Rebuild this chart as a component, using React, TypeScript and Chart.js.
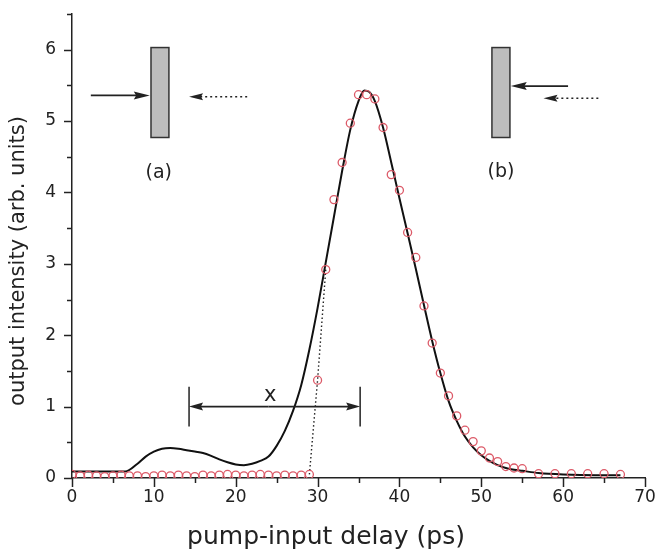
import React, { useEffect, useRef } from "react";
import { Chart, registerables } from "chart.js";

Chart.register(...registerables);

// Fitted (model) curve
const fitX = [0, 3, 6.5, 8, 9, 10, 11, 12, 13, 14, 15, 16, 17, 18, 19, 20, 21, 22, 23, 24, 25, 26, 27, 28, 29, 30, 31, 32, 33, 34, 35, 35.7, 36.3, 37, 38, 39, 40, 41, 42, 43, 44, 45, 46, 47, 48, 49, 50, 51, 52, 53, 54, 55, 57, 60, 64, 67];
const fitY = [0.09, 0.09, 0.09, 0.2, 0.3, 0.37, 0.41, 0.42, 0.41, 0.39, 0.37, 0.35, 0.31, 0.26, 0.22, 0.19, 0.18, 0.2, 0.24, 0.3, 0.45, 0.66, 0.94, 1.3, 1.8, 2.38, 3.02, 3.66, 4.3, 4.88, 5.28, 5.43, 5.41, 5.28, 4.91, 4.42, 3.92, 3.43, 2.93, 2.42, 1.92, 1.47, 1.08, 0.8, 0.58, 0.43, 0.32, 0.24, 0.18, 0.14, 0.115, 0.1, 0.07, 0.05, 0.04, 0.04];

// Measured points (red circles)
const measX = [0, 1, 2, 3, 4, 5, 6, 7, 8, 9, 10, 11, 12, 13, 14, 15, 16, 17, 18, 19, 20, 21, 22, 23, 24, 25, 26, 27, 28, 29, 30, 31, 32, 33, 34, 35, 36, 37, 38, 39, 40, 41, 42, 43, 44, 45, 46, 47, 48, 49, 50, 51, 52, 53, 54, 55, 57, 59, 61, 63, 65, 67];
const measY = [0.05, 0.03, 0.04, 0.03, 0.02, 0.03, 0.04, 0.03, 0.03, 0.02, 0.03, 0.04, 0.03, 0.04, 0.03, 0.02, 0.04, 0.03, 0.04, 0.05, 0.04, 0.03, 0.04, 0.05, 0.04, 0.03, 0.04, 0.03, 0.04, 0.05, 1.37, 2.92, 3.9, 4.42, 4.97, 5.37, 5.37, 5.31, 4.91, 4.25, 4.03, 3.44, 3.09, 2.41, 1.89, 1.47, 1.15, 0.87, 0.67, 0.51, 0.38, 0.28, 0.23, 0.16, 0.14, 0.13, 0.06, 0.06, 0.06, 0.06, 0.06, 0.05];

// Dotted connection of the measured rise
const dotX = [29, 30, 31];
const dotY = [0.05, 1.37, 2.92];

// Axis ticks
const xMajorTicks = [0, 10, 20, 30, 40, 50, 60, 70];
const yMajorTicks = [0, 1, 2, 3, 4, 5, 6];

const xTitle = "pump-input delay (ps)";
const yTitle = "output intensity (arb. units)";

const FONT = "'DejaVu Sans', 'Open Sans', sans-serif";
const INK = "#222";

function arrow(ctx: CanvasRenderingContext2D, x1: number, y1: number, x2: number, y2: number, dashed: boolean, headLen = 14, headW = 4) {
  const dir = Math.sign(x2 - x1);
  ctx.save();
  ctx.strokeStyle = INK;
  ctx.fillStyle = INK;
  ctx.lineWidth = 1.6;
  if (dashed) ctx.setLineDash([2, 3]);
  ctx.beginPath();
  ctx.moveTo(x1, y1);
  ctx.lineTo(x2 - dir * headLen * 0.8, y2);
  ctx.stroke();
  ctx.setLineDash([]);
  ctx.beginPath();
  ctx.moveTo(x2, y2);
  ctx.lineTo(x2 - dir * headLen, y2 - headW);
  ctx.lineTo(x2 - dir * headLen * 0.85, y2);
  ctx.lineTo(x2 - dir * headLen, y2 + headW);
  ctx.closePath();
  ctx.fill();
  ctx.restore();
}

const decorPlugin = {
  id: "decor",
  afterDraw(chart: any) {
    const ctx: CanvasRenderingContext2D = chart.ctx;
    const xs = chart.scales.x;
    const ys = chart.scales.y;
    const X = (v: number) => xs.getPixelForValue(v);
    const Y = (v: number) => ys.getPixelForValue(v);
    const area = chart.chartArea;
    ctx.save();
    // ticks
    ctx.strokeStyle = INK;
    ctx.lineWidth = 1.5;
    for (let v = 0; v <= 70; v += 5) {
      const len = v % 10 === 0 ? 9 : 5;
      const px = Math.round(X(v)) + 0.5;
      ctx.beginPath();
      ctx.moveTo(px, area.bottom);
      ctx.lineTo(px, area.bottom + len);
      ctx.stroke();
    }
    for (let i = 0; i <= 13; i++) {
      const v = i * 0.5;
      const len = i % 2 === 0 ? 8 : 5;
      const py = Math.round(Y(v)) + 0.5;
      ctx.beginPath();
      ctx.moveTo(area.left, py);
      ctx.lineTo(area.left - len, py);
      ctx.stroke();
    }

    // axis titles
    ctx.save();
    ctx.fillStyle = INK;
    ctx.textAlign = "center";
    ctx.textBaseline = "middle";
    ctx.font = `25px ${FONT}`;
    ctx.fillText(xTitle, 326, 537);
    ctx.font = `21px ${FONT}`;
    ctx.translate(19, 261);
    ctx.rotate(-Math.PI / 2);
    ctx.fillText(yTitle, 0, 0);
    ctx.restore();

    // Insets: slabs
    const slab = (x0: number, x1: number) => {
      const l = X(x0), r = X(x1), t = Y(6.03), b = Y(4.77);
      ctx.fillStyle = "#bdbdbd";
      ctx.fillRect(l, t, r - l, b - t);
      ctx.strokeStyle = "#333";
      ctx.lineWidth = 1.5;
      ctx.strokeRect(l, t, r - l, b - t);
    };
    slab(9.65, 11.84);
    slab(51.3, 53.5);

    // (a) arrows
    arrow(ctx, X(2.3), Y(5.36), X(9.5), Y(5.36), false, 16, 4);
    arrow(ctx, X(21.4), Y(5.34), X(14.3), Y(5.34), true, 14, 3.5);
    // (b) arrows
    arrow(ctx, X(60.6), Y(5.49), X(53.6), Y(5.49), false, 16, 4);
    arrow(ctx, X(64.3), Y(5.32), X(57.6), Y(5.32), true, 14, 3.5);

    ctx.fillStyle = INK;
    ctx.font = `19px ${FONT}`;
    ctx.textAlign = "center";
    ctx.textBaseline = "middle";
    ctx.fillText("(a)", X(10.6), Y(4.27));
    ctx.fillText("(b)", X(52.4), Y(4.28));

    // x bracket
    ctx.strokeStyle = INK;
    ctx.lineWidth = 1.5;
    for (const bx of [14.3, 35.2]) {
      ctx.beginPath();
      ctx.moveTo(X(bx), Y(1.28));
      ctx.lineTo(X(bx), Y(0.72));
      ctx.stroke();
    }
    arrow(ctx, X(24), Y(1), X(14.3), Y(1), false, 14, 4);
    arrow(ctx, X(24), Y(1), X(35.2), Y(1), false, 14, 4);
    ctx.font = `21px ${FONT}`;
    ctx.fillText("x", X(24.2), Y(1.15));
    ctx.restore();
  },
};

export default function App() {
  const ref = useRef<HTMLCanvasElement | null>(null);
  useEffect(() => {
    if (!ref.current) return;
    Chart.defaults.font.family = FONT;
    Chart.defaults.color = INK;
    const chart = new Chart(ref.current, {
      type: "line",
      data: {
        datasets: [
          {
            label: "measured",
            data: measX.map((x, i) => ({ x, y: measY[i] })),
            showLine: false,
            pointStyle: "circle",
            pointRadius: 4,
            pointBorderWidth: 1.3,
            pointBorderColor: "#dc5a68",
            pointBackgroundColor: "rgba(0,0,0,0)",
            borderColor: "#dc5a68",
            order: 0,
          },
          {
            label: "fit",
            data: fitX.map((x, i) => ({ x, y: fitY[i] })),
            borderColor: "#111",
            borderWidth: 2,
            pointRadius: 0,
            cubicInterpolationMode: "monotone",
            fill: false,
            order: 1,
          },
          {
            label: "rise",
            data: dotX.map((x, i) => ({ x, y: dotY[i] })),
            borderColor: "#222",
            borderWidth: 1.4,
            borderDash: [1.5, 2.5],
            pointRadius: 0,
            fill: false,
            order: 2,
          },
        ],
      },
      options: {
        animation: false,
        responsive: false,
        layout: { padding: { top: 14, right: 12, left: 0, bottom: 0 } },
        plugins: { legend: { display: false }, tooltip: { enabled: false } },
        scales: {
          x: {
            type: "linear",
            min: 0,
            max: 70,
            grid: { display: false, drawTicks: false },
            border: { display: true, color: INK, width: 1.5 },
            afterBuildTicks: (s: any) => {
              s.ticks = xMajorTicks.map((v) => ({ value: v }));
            },
            afterFit: (s: any) => {
              s.height = 72;
              s.paddingLeft = 0;
              s.paddingRight = 0;
            },
            ticks: { padding: 9, font: { size: 17, family: FONT }, color: INK, maxRotation: 0 },
            title: { display: false, text: xTitle },
          },
          y: {
            type: "linear",
            min: 0,
            max: 6.5,
            grid: { display: false, drawTicks: false },
            border: { display: true, color: INK, width: 1.5 },
            afterBuildTicks: (s: any) => {
              s.ticks = yMajorTicks.map((v) => ({ value: v }));
            },
            afterFit: (s: any) => {
              s.width = 72;
              s.paddingTop = 0;
              s.paddingBottom = 0;
            },
            ticks: { padding: 16, font: { size: 17, family: FONT }, color: INK },
            title: { display: false, text: yTitle },
          },
        },
      },
      plugins: [decorPlugin],
    });
    return () => chart.destroy();
  }, []);
  return (
    <div style={{ position: "fixed", left: 0, top: 0, width: 657, height: 550, background: "#fff" }}>
      <canvas ref={ref} width={657} height={550} style={{ display: "block" }} />
    </div>
  );
}
